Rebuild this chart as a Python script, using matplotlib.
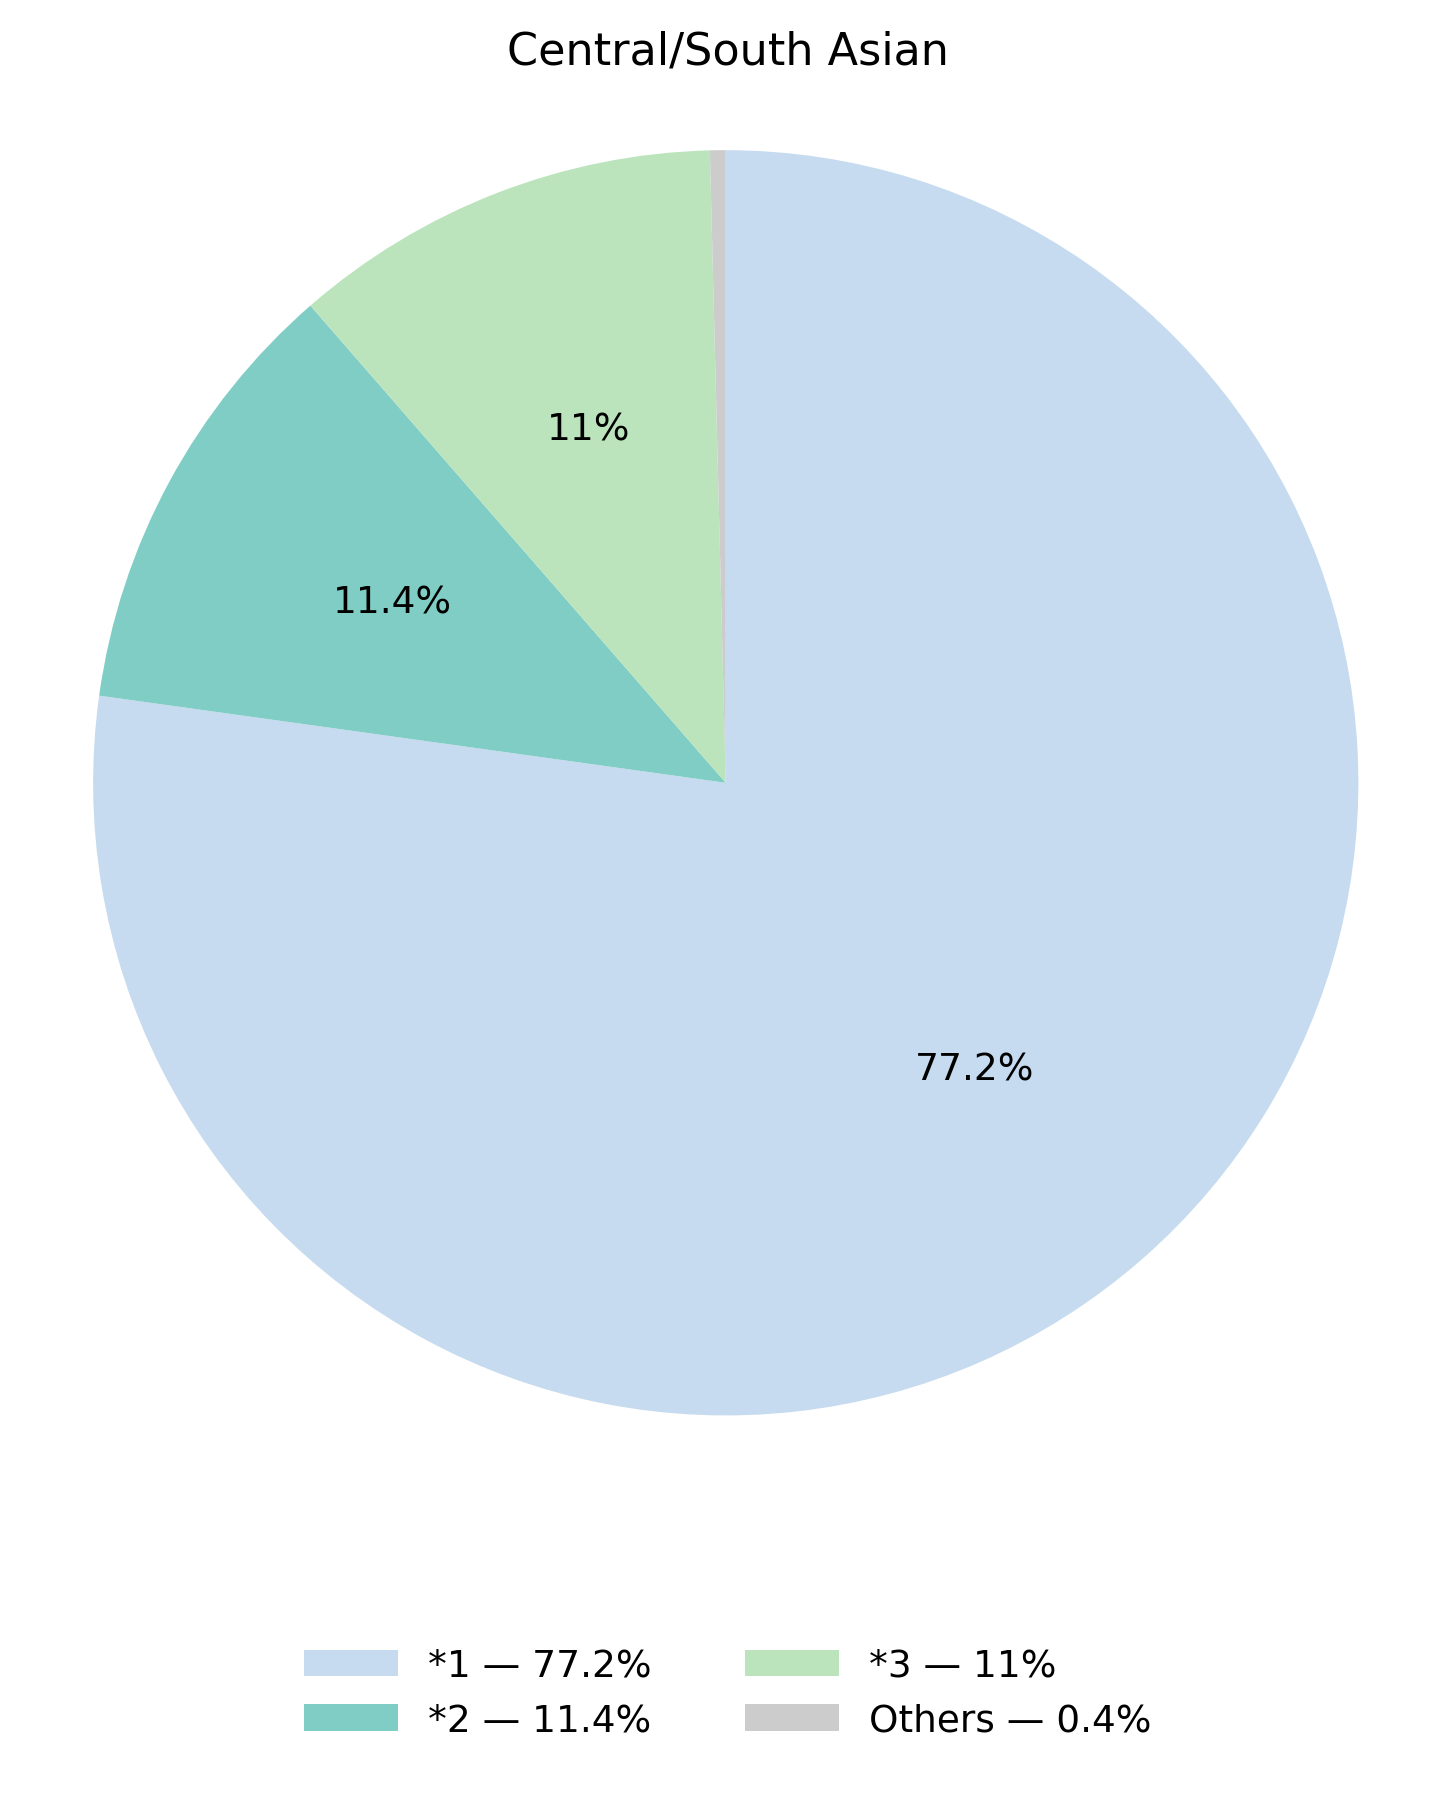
import numpy as np
import matplotlib.pyplot as plt

labels = ["*1", "*2", "*3", "Others"]
values = [77.2, 11.4, 11.0, 0.4]
pct_text = ["77.2%", "11.4%", "11%", "0.4%"]
colors = ["#c6dbef", "#7fcdc4", "#bbe4bc", "#cccccc"]

fig = plt.figure(figsize=(14.55, 18.06), dpi=100)
ax = fig.add_axes([0.064, 0.2157, 0.8696, 0.7006])
wedges, _ = ax.pie(values, colors=colors, startangle=90, counterclock=False)
for w, t, v in zip(wedges, pct_text, values):
    if v < 1:
        continue
    ang = np.deg2rad((w.theta1 + w.theta2) / 2)
    ax.text(0.6 * np.cos(ang), 0.6 * np.sin(ang), t, ha="center", va="center", fontsize=27)
ax.set_xlim(-1, 1)
ax.set_ylim(-1, 1)
ax.set_aspect("equal")
fig.text(0.5, 0.971, "Central/South Asian", ha="center", va="center", fontsize=32)

fig.legend(wedges, [f"{l} — {p}" for l, p in zip(labels, pct_text)],
           loc="lower center", bbox_to_anchor=(0.5, 0.018), ncol=2, frameon=False,
           fontsize=27, handlelength=2.5, columnspacing=2.5)
fig.savefig("out.png")
